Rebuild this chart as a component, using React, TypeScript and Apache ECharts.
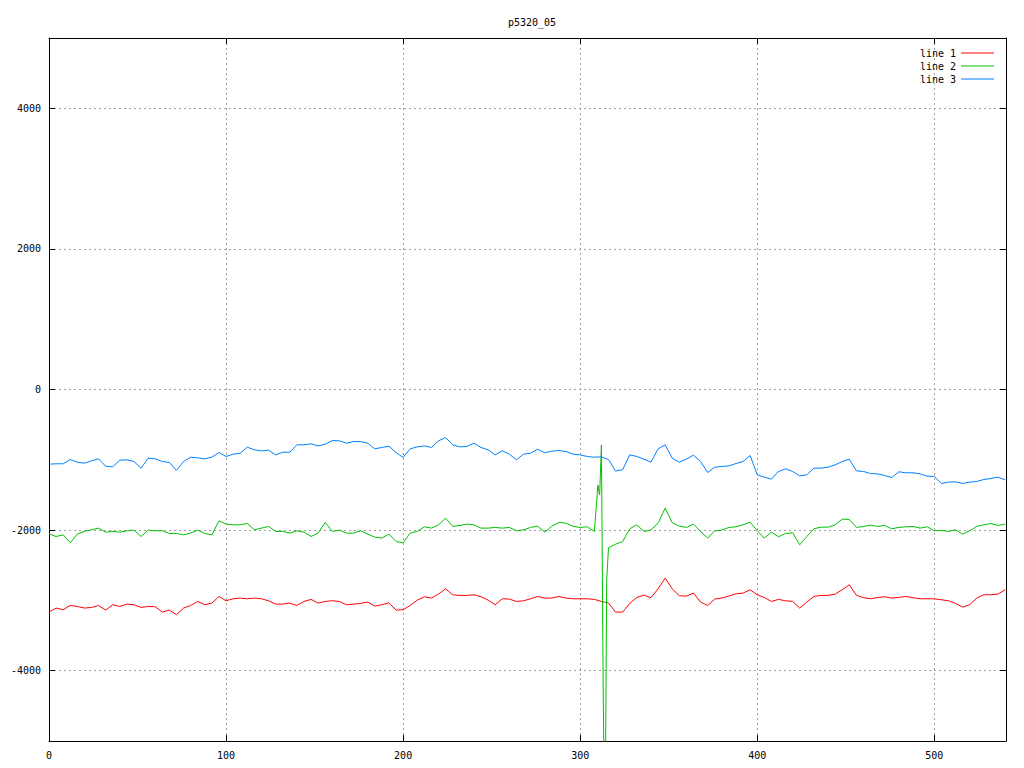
import React, { useEffect, useRef } from "react";
import * as echarts from "echarts";

const titleText = "p5320_05";
const seriesNames = ["line 1", "line 2", "line 3"];
const seriesColors = ["#ff0000", "#00c000", "#0080ff"];
const xTicks = [0, 100, 200, 300, 400, 500];
const yTicks = [-4000, -2000, 0, 2000, 4000];

const xs = [
  0, 4, 8, 12, 16, 20, 24, 28, 32, 36, 40, 44, 48, 52, 56, 60, 64, 68, 72, 76, 80, 84, 88, 92, 96, 100, 104, 108, 112, 116, 120, 124, 128, 132, 136,
  140, 144, 148, 152, 156, 160, 164, 168, 172, 176, 180, 184, 188, 192, 196, 200, 204, 208, 212, 216, 220, 224, 228, 232, 236, 240, 244, 248, 252, 256, 260, 264, 268, 272,
  276, 280, 284, 288, 292, 296, 300, 304, 308, 312, 316, 320, 324, 328, 332, 336, 340, 344, 348, 352, 356, 360, 364, 368, 372, 376, 380, 384, 388, 392, 396, 400, 404,
  408, 412, 416, 420, 424, 428, 432, 436, 440, 444, 448, 452, 456, 460, 464, 468, 472, 476, 480, 484, 488, 492, 496, 500, 504, 508, 512, 516, 520, 524, 528, 532, 536, 540,
];

// line 1 (red)
const line1 = [
  -3166, -3109, -3133, -3072, -3086, -3109, -3100, -3072, -3138, -3062, -3086, -3053, -3062, -3100, -3086, -3090, -3166, -3138, -3204, -3109, -3072, -3015, -3062, -3038, -2944, -3005, -2977, -2967, -2977, -2967, -2977, -3005, -3053, -3053, -3038,
  -3072, -3015, -2986, -3038, -3015, -3005, -3015, -3062, -3053, -3043, -3024, -3081, -3062, -3034, -3138, -3133, -3072, -2996, -2948, -2967, -2910, -2835, -2920, -2929, -2929, -2920, -2948, -2996, -3062, -2977, -2981, -3015, -3005, -2977,
  -2944, -2967, -2967, -2944, -2967, -2977, -2977, -2977, -2986, -3015, -3038, -3166, -3166, -3043, -2958, -2925, -2962, -2835, -2683, -2835, -2934, -2939, -2896, -3024, -3072, -2981, -2967, -2939, -2906, -2896, -2849, -2920, -2958,
  -3015, -2986, -3005, -3015, -3109, -3024, -2944, -2929, -2929, -2910, -2849, -2778, -2925, -2962, -2977, -2958, -2948, -2967, -2958, -2944, -2962, -2977, -2977, -2977, -2991, -3005, -3043, -3095, -3062, -2967, -2920, -2920, -2910, -2849,
];

// line 2 (green)
const line2 = [
  -2053, -2091, -2067, -2180, -2057, -2019, -1996, -1972, -2029, -2019, -2029, -2010, -2000, -2091, -2000, -2010, -2010, -2048, -2048, -2067, -2043, -2000, -2048, -2067, -1868, -1915, -1925, -1925, -1906, -1996, -1972, -1948, -2019, -2019, -2043,
  -2010, -2029, -2091, -2043, -1890, -2019, -2000, -2043, -2043, -2010, -2057, -2100, -2114, -2057, -2162, -2180, -2043, -2019, -1953, -1972, -1925, -1830, -1948, -1934, -1915, -1925, -1972, -1972, -1962, -1972, -1962, -2010, -1996, -1962,
  -1944, -2029, -1944, -1891, -1901, -1948, -1962, -1953, -2019, -1420, -2250, -2200, -2162, -1981, -1925, -2019, -1996, -1901, -1688, -1896, -1944, -1962, -1915, -2019, -2114, -2010, -2000, -1962, -1953, -1925, -1887, -2010, -2114,
  -2029, -2095, -2048, -2038, -2209, -2091, -1981, -1958, -1958, -1925, -1844, -1849, -1962, -1948, -1929, -1948, -1934, -1981, -1962, -1953, -1948, -1972, -1953, -2010, -2005, -2019, -1996, -2057, -2010, -1948, -1925, -1906, -1934, -1915,
];
// line 2: the short burst around x = 310
const spikeX = [309, 310, 311, 312, 313, 314, 315];
const spikeY = [-1700, -1360, -1500, -790, -4300, -6500, -2700];

// line 3 (blue)
const line3 = [
  -1062, -1057, -1057, -996, -1034, -1048, -1015, -986, -1091, -1100, -1005, -1001, -1024, -1120, -977, -986, -1024, -1039, -1150, -1024, -963, -972, -986, -963, -896, -953, -920, -906, -821, -858, -873, -863, -930, -892, -892,
  -787, -787, -773, -802, -778, -726, -730, -764, -740, -740, -764, -844, -825, -806, -896, -967, -844, -816, -802, -825, -730, -683, -787, -816, -811, -764, -825, -858, -930, -873, -920, -1000, -920, -906,
  -849, -901, -877, -868, -882, -920, -930, -953, -963, -958, -996, -1160, -1140, -930, -953, -991, -1034, -844, -787, -977, -1034, -991, -934, -1024, -1181, -1105, -1095, -1086, -1053, -1024, -939, -1214, -1247,
  -1275, -1166, -1129, -1166, -1228, -1214, -1119, -1119, -1105, -1072, -1024, -991, -1157, -1166, -1195, -1200, -1223, -1252, -1171, -1185, -1185, -1200, -1233, -1237, -1337, -1318, -1313, -1337, -1318, -1309, -1280, -1266, -1247, -1285,
];

const FONT = "DejaVu Sans Mono";

function pairs(xv: number[], yv: number[]) {
  return xv.map((x, i) => [x, yv[i]]);
}

function greenData() {
  const base = pairs(xs, line2).filter((p) => !(p[0] > 308 && p[0] < 316));
  const extra = pairs(spikeX, spikeY);
  return base.concat(extra).sort((a, b) => a[0] - b[0]);
}

const plain = (v: number) => String(v);

export default function App() {
  const ref = useRef<HTMLDivElement>(null);
  useEffect(() => {
    if (!ref.current) return;
    const chart = echarts.init(ref.current, null, { renderer: "svg" });
    const axisCommon = {
      axisLine: { show: true, onZero: false, lineStyle: { color: "#000", width: 1 } },
      axisTick: { show: true, inside: true, length: 6, lineStyle: { color: "#000", width: 1 } },
    };
    chart.setOption({
      animation: false,
      backgroundColor: "#ffffff",
      title: {
        text: titleText,
        left: 527,
        top: 12,
        textAlign: "center",
        textStyle: { fontFamily: FONT, fontSize: 10, fontWeight: "normal", color: "#000" },
      },
      legend: {
        data: seriesNames,
        orient: "vertical",
        right: 25,
        top: 42,
        align: "right",
        icon: "rect",
        itemWidth: 33,
        itemHeight: 1,
        itemGap: 1,
        textStyle: { fontFamily: FONT, fontSize: 10, color: "#000", lineHeight: 12 },
      },
      grid: { left: 49, top: 38, right: 18, bottom: 27, containLabel: false },
      xAxis: [
        {
          type: "value",
          min: 0,
          max: 540.5,
          position: "bottom",
          ...axisCommon,
          axisTick: { ...axisCommon.axisTick, customValues: xTicks },
          axisLabel: { customValues: xTicks, formatter: plain, margin: 9, fontFamily: FONT, fontSize: 10, color: "#000" },
          splitLine: { show: true, lineStyle: { color: "#a0a0a0", type: [2, 3], width: 1 } },
        },
        {
          type: "value",
          min: 0,
          max: 540.5,
          position: "top",
          ...axisCommon,
          axisTick: { ...axisCommon.axisTick, customValues: xTicks },
          axisLabel: { show: false },
          splitLine: { show: false },
        },
      ],
      yAxis: [
        {
          type: "value",
          min: -5000,
          max: 5000,
          position: "left",
          ...axisCommon,
          axisTick: { ...axisCommon.axisTick, customValues: yTicks },
          axisLabel: { customValues: yTicks, formatter: plain, margin: 8, fontFamily: FONT, fontSize: 10, color: "#000" },
          splitLine: { show: true, lineStyle: { color: "#a0a0a0", type: [2, 3], width: 1 } },
        },
        {
          type: "value",
          min: -5000,
          max: 5000,
          position: "right",
          ...axisCommon,
          axisTick: { ...axisCommon.axisTick, customValues: yTicks },
          axisLabel: { show: false },
          splitLine: { show: false },
        },
      ],
      series: [
        {
          name: seriesNames[0],
          type: "line",
          data: pairs(xs, line1),
          showSymbol: false,
          symbol: "none",
          color: seriesColors[0],
          lineStyle: { width: 1, color: seriesColors[0] },
          clip: true,
        },
        {
          name: seriesNames[1],
          type: "line",
          data: greenData(),
          showSymbol: false,
          symbol: "none",
          color: seriesColors[1],
          lineStyle: { width: 1, color: seriesColors[1] },
          clip: true,
        },
        {
          name: seriesNames[2],
          type: "line",
          data: pairs(xs, line3),
          showSymbol: false,
          symbol: "none",
          color: seriesColors[2],
          lineStyle: { width: 1, color: seriesColors[2] },
          clip: true,
        },
      ],
    });
    return () => chart.dispose();
  }, []);
  return (
    <div
      ref={ref}
      style={{ position: "absolute", left: 0, top: 0, width: 1024, height: 768, background: "#fff" }}
    />
  );
}
